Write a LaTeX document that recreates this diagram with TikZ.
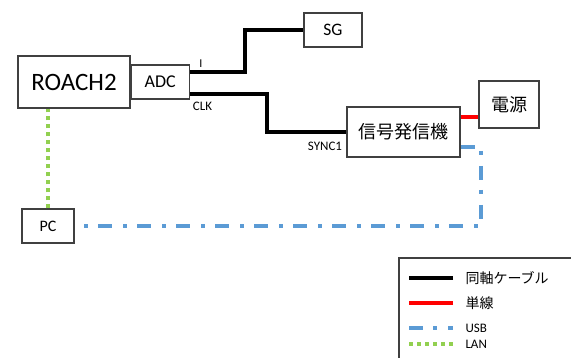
\documentclass[tikz,border=0pt]{standalone}
\usepackage{fontspec}
\setmainfont{Carlito}
\newfontfamily\jpfont{Noto Sans CJK JP}
\usetikzlibrary{positioning}

\tikzset{
  box/.style={draw=black!75, line width=1.2pt, minimum width=#1, inner sep=0pt},
  coax/.style={line width=4pt, black},
  single/.style={line width=4pt, red},
  usb/.style={line width=4pt, color={rgb,255:red,91;green,155;blue,213},
    dash pattern=on 14pt off 10pt on 4pt off 11pt},
  lan/.style={line width=4pt, color={rgb,255:red,146;green,208;blue,80},
    dash pattern=on 4pt off 4pt}
}

\begin{document}
\begin{tikzpicture}[x=1pt, y=1pt]
    \clip (0,0) rectangle (571,358);

    % devices
    \node[box=112pt, minimum height=52pt, font=\fontsize{25}{25}\selectfont] (roach) at (74, 276) {ROACH2};
    \node[box=58pt, minimum height=34pt, font=\fontsize{18}{18}\selectfont, right=0pt of roach] (adc) {ADC};
    \node[box=58pt, minimum height=34pt, font=\fontsize{17.5}{17.5}\selectfont] (sg) at (333, 328) {SG};
    \node[box=113pt, minimum height=50pt, font=\jpfont\fontsize{18}{18}\selectfont] (sig) at (403.5, 226) {信号発信機};
    \node[box=60pt, minimum height=47pt, font=\jpfont\fontsize{18}{18}\selectfont] (den) at (509, 253.5) {電源};
    \node[box=52pt, minimum height=34pt, font=\fontsize{16}{16}\selectfont] (pc) at (48, 132) {PC};

    % cables
    \draw[coax] ([yshift=10pt]adc.east) -| ([xshift=-58pt]sg.west) -- (sg.west);
    \draw[coax] ([yshift=-12pt]adc.east) -| ([xshift=-79pt]sig.west) -- (sig.west);
    \draw[single] ([yshift=15pt]sig.east) -- ([yshift=15pt]sig.east -| den.west);
    \draw[usb] ([yshift=-15pt]sig.east) -- ++(20,0) |- (pc.east);
    \draw[lan] (pc.north) -- (pc.north |- roach.south);

    % port labels
    \node[font=\fontsize{12}{12}\selectfont] (ilabel) at (201, 294) {I};
    \node[font=\fontsize{13}{13}\selectfont] (clklabel) at (202.5, 252) {CLK};
    \node[font=\fontsize{13}{13}\selectfont] (synclabel) at (325, 212) {SYNC1};

    % legend
    \draw[black!75, line width=1.2pt] (399, -5) rectangle (600, 100);
    \node[anchor=west, font=\jpfont\fontsize{14}{14}\selectfont] (lgcoax) at (462, 80) {同軸ケーブル};
    \node[anchor=west, font=\jpfont\fontsize{14}{14}\selectfont] (lgsingle) at (462, 55) {単線};
    \node[anchor=west, font=\fontsize{13}{13}\selectfont] (lgusb) at (462, 30) {USB};
    \node[anchor=west, font=\fontsize{13}{13}\selectfont] (lglan) at (462, 14) {LAN};
    \draw[coax] ([xshift=-9pt]lgcoax.west) -- ++(-44,0);
    \draw[single] ([xshift=-9pt]lgsingle.west) -- ++(-44,0);
    \draw[usb] ([xshift=-53pt]lgusb.west) -- ++(44,0);
    \draw[lan] ([xshift=-53pt]lglan.west) -- ++(44,0);
\end{tikzpicture}
\end{document}
